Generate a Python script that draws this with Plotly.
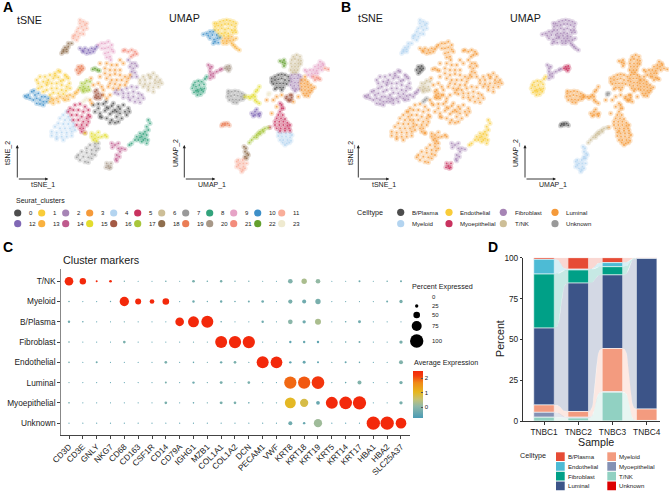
import numpy as np
import plotly.graph_objects as go

W, H = 669, 491
FONT = "Liberation Sans"

# ---------- embedding coordinates, one list per Seurat cluster ----------
tsne_0 = [(28.0,28.5),(29.5,27.5),(31,28.8),(32.5,27.5),(34,29),(35.5,28),(37,28.5),(38.5,27.5),(28.5,26.5),(30,26),(31.5,26.8),(33,25.8),(34.5,27),(36,26),(37.5,26.5),(30.5,24.8),(32,24.5),(33.5,24),(35,25),(36.5,24.5),(38,25.5),(33,23.2),(34.5,23.2),(29.5,28.8),(31.8,29.5),(33.5,28.2),(35,26.5),(38.8,26.5),(32,27.8),(30,25),(33.8,26.5),(36,27.3),(35.5,23.5)]
tsne_1 = [(17.5,38.8),(11,36),(12,37),(13.5,37),(15,37.5),(16.5,38),(18,38.5),(19.5,37.5),(20.5,36.5),(11.5,35),(13,35.5),(14.5,36),(16,36.5),(17.5,36.8),(19,36),(20.8,35),(12.5,34),(14,34.5),(15.5,35),(17,35),(18.5,34.5),(20,34),(21,33.5),(14,33),(15.5,33.5),(17,33.5),(18.5,33),(19.8,32.8),(16,32.2),(17.5,32),(19,31.8),(15,31.5),(13,32.5),(11.5,33.5),(16.5,37.3),(14.2,35.2),(18.2,35.7),(20,37)]
tsne_2 = [(35,33),(36.5,33),(38,33.5),(39.5,34),(41,33.8),(35.5,31.8),(37,32),(38.5,32),(40,32.5),(41.5,32),(42.5,31.5),(37,30.8),(38.5,30.8),(40,31),(41.5,30.5),(43,30.5),(39,30),(40.5,29.5),(42,29.3),(38.5,42),(39.5,41),(40.5,41),(39,40),(40,39.5),(41,40.2),(39.5,38.5),(40.5,38.2),(39.5,37),(41,37),(34.5,32.2)]
tsne_3 = [(32,41),(33.5,40.5),(35,40.5),(31.5,39.5),(33,39),(34.5,39),(36,39),(31.5,38),(33,37.5),(34.5,37.8),(36,37.5),(37.5,37),(38.5,36.5),(32,36.5),(33.5,36),(35,36),(36.5,36),(38,35.5),(33,35),(34.5,34.8),(36,34.5),(37.5,34.5),(34,33.5),(35.5,33.5),(32.5,34),(39,37.5),(31,31.5),(32,30.5),(30.5,34),(27,30),(27.3,36.5),(30,37),(29.5,35),(31,33),(33,31.5),(28,34.5),(30,41),(36,42),(37,41),(27.5,29)]
tsne_4 = [(20,26.5),(19,25.5),(20.5,25),(18,24.5),(19.5,24),(21,24),(17.5,23),(19,22.8),(20.5,22.8),(22,23),(16.5,22),(18,21.5),(19.5,21.5),(21,21.5),(22,22),(15.5,20.5),(17,20.2),(18.5,20.3),(20,20.2),(21.5,20.5),(22.5,21),(15.5,19.3),(17,19),(18.5,19),(20,19),(21.5,19.3),(17,18.3),(19,18)]
tsne_5 = [(21,27.5),(22.5,28.5),(24,28.8),(25.5,28),(26.5,27),(20.5,26.5),(22,27),(23.5,27),(25,26.5),(26.5,25.5),(21.5,25.5),(23,25.5),(24.5,25),(26,24.5),(27,25),(22,24),(23.5,24),(25,23.5),(26.5,23.5),(23,22.5),(24.5,22.5),(26,22.5),(24,21.5),(25,21.5),(24.5,20.5),(25.5,20.2)]
tsne_6 = [(43,37),(44.5,37.5),(46,38),(47,37),(42,36),(43.5,36),(45,36.5),(46.5,36),(48,36),(42,35),(43.5,34.8),(45,35),(46.5,35),(48.5,35),(43,34),(44.5,34),(46,33.8),(47.5,34),(44.5,33),(46,32.5),(45.2,37),(47.5,35.3)]
tsne_7 = [(28.5,17),(29.5,17),(27,16.5),(28.5,16),(29.5,15.5),(26,15.5),(27.5,15),(28.8,14.8),(24.5,14.5),(26,14.2),(27.5,13.8),(28.5,13.5),(23.5,13.5),(25,13),(26.5,12.8),(27.5,12.5),(24,12),(25.5,11.5),(26.5,11.3),(23,12.8)]
tsne_8 = [(44.5,24),(45,23),(44,22),(44.5,21),(43.5,20.5),(43,19.8),(42,20),(44,19.5),(42.5,19),(43.5,18.5),(41,19),(40.5,18),(41.5,18),(42.5,17.5),(44,17),(39.5,17),(38.8,16.5),(43,18),(44.3,18),(42,18.8)]
tsne_9 = [(29.5,46.5),(30.5,47),(31.5,47),(32.5,47.5),(33.5,46.5),(30.5,45.5),(31.5,45.5),(32.5,45.8),(33.5,45.2),(31.5,44),(32.5,44.3),(33,43),(32,42.8),(33.2,42),(34,44.5)]
tsne_10 = [(7.5,31.2),(8.5,31.5),(9.5,32.5),(10.5,31.5),(11.5,32),(12.5,31),(13.5,31),(14.5,30.5),(9,30.5),(10,30),(11,30.5),(12,30),(13,29.5),(14,29.5),(11,29),(12,28.8),(13,28.5),(10.2,32.8),(8,30.8)]
tsne_11 = [(25,53.5),(24,53),(25.5,52.5),(24.5,52),(23.5,51.5),(25,51),(26,51.5),(23,50.5),(24,50),(25,49.8),(22.5,49.5),(23.5,49),(22,48.5),(23,48),(26,53),(24,54),(22,49.2)]
tsne_12 = [(24,45.5),(25,44.5),(25.5,45.5),(26.5,45),(27.5,45.5),(28.5,45.3),(26,44),(27,44.2),(28,44.5),(29,46),(24.8,44.8)]
tsne_13 = [(15,29.5),(16,30),(17,30.5),(18,31),(19,30.5),(20,31.2),(21,31.5),(22,31),(16,29),(17.5,29.5),(19.5,30),(20.5,30.2),(22.5,32),(23.5,33),(23,32.3),(15.5,30.5)]
tsne_14 = [(33.5,17),(34.5,16.5),(35.5,17),(36.5,15.5),(37.5,15.2),(35.5,15.5),(36,14.5),(35,13.5),(35.8,13),(34.8,12.3),(33.7,15.8),(35,11.8)]
tsne_15 = [(25.5,20),(27.5,20),(28.5,19.5),(29.5,20.3),(27.5,19),(28.5,18.5),(29.5,18.8),(30.5,19),(31.5,19.5),(32,19),(28,18),(29,17.7)]
tsne_16 = [(28.5,32.5),(29,33),(29.5,32),(28.8,31.5),(29.5,31),(30.5,31.5),(29,30.5),(30,30.5),(28.5,30.8)]
tsne_17 = [(24.5,35),(25,34),(24.8,33),(25.5,33.5),(26,32.8),(26.5,34),(27,35.5),(25.5,35),(26,35.8),(25,32.5),(24,33.7),(26.8,33)]
tsne_18 = [(21.5,47),(20.5,46),(20,45.2),(19,44.5),(18.5,44),(19.5,45.8),(20.5,47),(19,45),(20,44.5)]
tsne_19 = [(23.5,40),(24,39.5),(24.5,40.2),(23,39),(24,38.5),(24.5,39),(23.5,38),(25,39.5)]
tsne_20 = [(32,11),(32.5,10.2),(33.3,11),(32.8,9.5),(33.2,9.8),(31.8,9.8)]
tsne_21 = [(37.5,45),(38.5,44.5),(39.5,45),(40.5,44.5),(40,43.5),(39.3,43),(37,44.8),(41,43.8)]
tsne_22 = [(27.8,39.2),(28.5,39.5),(29.2,39),(29.8,38.8)]
tsne_23 = [(25.5,30),(25,29.5),(26,30.5)]

umap_0 = [(31.5,36.5),(32.5,37),(33.5,37.5),(34.5,37.7),(35.5,37.5),(36.5,37),(31.5,35.5),(32.5,36),(33.5,36.2),(34.5,36.5),(35.5,36),(36.7,35.8),(32,34.8),(33,35),(34,35),(35,35),(36,34.8),(33,33.8),(34,33.8),(35,33.8),(32.5,33.3),(34.5,33)]
umap_1 = [(15,53),(16,53.5),(17,53.8),(18,54),(19,53.8),(20,53.5),(20.8,53),(14.5,52),(15.5,52.3),(16.5,52.5),(17.5,52.8),(18.5,52.8),(19.5,52.5),(20.5,52),(14.5,51),(15.5,51),(16.5,51.5),(17.5,51.2),(18.5,51.5),(19.5,51),(20.5,51),(15.5,50),(16.5,50),(17.5,50.2),(18.5,50),(19.8,50.2),(16,49),(17.2,49.3),(18.5,49.2),(14.3,53),(20.8,50.3)]
umap_2 = [(37.5,37.5),(38.5,37.7),(39.5,37.5),(40.2,37),(37.3,36.5),(38.3,36.5),(39.3,36.5),(40.3,36),(37.5,35.5),(38.5,35.3),(39.5,35.3),(37.2,34.5),(38.3,34.3),(39.5,34.3),(37.8,33.5),(38.8,33.3),(39.8,33.3),(38.5,32.7)]
umap_3 = [(41.5,37),(40.5,36),(41.5,36),(42.3,35.5),(40.3,35),(41.3,35),(42.3,34.7),(43.3,34.5),(40.5,34),(41.5,34),(42.5,33.8),(43.5,33.5),(44.3,33.8),(40.5,33),(41.5,33),(42.5,32.8),(43.5,32.8),(41,32),(42,32),(43,32.2),(41.5,31.3),(42.5,31.2),(30,30),(32,30),(33,31),(34.5,31.5),(33,28),(31.5,26),(39.5,31),(38,29.5)]
umap_4 = [(33.5,20.3),(34.5,20),(35.8,20),(37,20),(37.6,19.5),(33.5,19.2),(34.6,19),(35.8,19),(37,18.8),(34,18),(35,18),(36.2,18),(37.3,17.8),(34.8,17.2),(36,17),(36.8,17.2),(35.5,16.5)]
umap_5 = [(34,26.5),(33.5,25.5),(34.8,25.5),(33,24.5),(34.3,24.5),(35.5,24.3),(32.5,23.5),(33.8,23.5),(35,23.5),(36.2,23.2),(32.5,22.5),(33.8,22.5),(35,22.5),(36.2,22.3),(37,22.5),(33,21.5),(34.2,21.5),(35.5,21.5),(36.7,21.5),(34,20.7),(35.5,20.8),(37,20.8),(34.5,28.5),(34,29),(35,27.5),(34.5,27.5),(31,21.8)]
umap_6 = [(38,43),(39,43.5),(40,43),(37.5,42),(38.5,42.3),(39.5,42),(40.3,41.8),(37.3,41),(38.5,41),(39.5,41),(40.2,40.8),(37.5,40),(38.5,40),(39.5,40),(37.2,39),(38.3,39),(39.3,39),(37.8,38.3),(38.8,38.3)]
umap_7 = [(18.5,32),(19.5,32.5),(20.5,32.7),(21.5,32.5),(22.5,32),(23.3,31.5),(18.3,31),(19.3,31.2),(20.3,31.5),(21.3,31.3),(22.3,31),(23.3,30.8),(18.8,30),(19.8,30.2),(20.8,30.2),(21.8,30),(22.8,30.2),(20,29.3),(21,29.2),(18.5,32.7)]
umap_8 = [(8,34.5),(8.5,35.3),(9.5,35.7),(10.5,35.5),(11.2,34.7),(11.3,33.5),(11,32.5),(10.2,31.7),(9.2,31.5),(8.2,32.3),(7.7,33.5),(8.8,34),(9.8,34.5),(10.2,33.5),(9.3,33),(8.8,32.8),(9.5,32.5),(10.5,33),(11.5,36.3),(12,37)]
umap_9 = [(46,41.5),(46.8,41),(45.5,40.5),(46.3,40),(47,40.5),(44.5,40),(45.5,39.5),(46.5,39),(44,39),(45,38.8),(43.5,38),(44.5,38),(45.3,38),(42.5,37.5),(43.5,37),(42,38.5),(41.5,39),(43,39)]
umap_10 = [(12,50),(13,50.5),(14,50.5),(11,49.7),(12.5,49.3),(13.7,49.5),(15,49.5),(13,48.5),(14.2,48.2),(15.2,48.5),(16,48.7),(14.5,47.5),(15.5,47.2),(14,47)]
umap_11 = [(21,11.5),(21.5,10.5),(22,11),(21.5,12),(22,9.5),(23,10),(22.8,9),(23.5,9.5),(23,11),(22.5,8.5),(21,10),(24,11),(23.5,12.5),(22.8,12)]
umap_12 = [(25.5,26),(26.5,26.5),(27,27.2),(27.5,25.8),(26.5,25.5),(28,26),(27.8,25.2),(26,25.2)]
umap_13 = [(17.5,48.5),(18.5,48.5),(19.5,49),(16.8,47.8),(18,47.7),(19,47.8),(20,48),(20.8,48.5),(17,47),(18,47),(19.5,47),(20,46.5),(20.5,46),(21,45.5),(21.8,45)]
umap_14 = [(12.5,40.5),(13,39.5),(13.5,40),(13,38.5),(14,38),(13.2,37.5),(14,37),(15,38.5),(16,39),(16.5,39.3),(13,36.5)]
umap_15 = [(23.5,31),(24.5,31),(25.5,31),(26.5,31),(26,31.5),(26.7,32.5),(27.2,33),(27.8,34),(26.5,30),(27,29.5),(25,30.5),(27.8,29)]
umap_16 = [(36,31),(37,31.5),(37.5,30.7),(36.5,30),(37.2,30),(35.8,30.5),(36.8,29.8),(37.5,31.5)]
umap_17 = [(24.8,17.2),(25.5,18),(26.2,18.8),(27,19.5),(27.5,20),(28,20.5),(28.8,21),(29.5,21.5),(30.5,21.7),(29,20.5),(28,19.8),(27,18.8)]
umap_18 = [(23.8,15.5),(23.5,14.5),(24.2,14),(23.5,13),(24.5,13.5),(24,12.5),(23.2,16)]
umap_19 = [(16.8,22.8),(17.5,23),(18.3,23),(18.8,22.4),(17.5,22.5),(16.5,22.3)]
umap_20 = [(18,40),(18.8,40.2),(18.2,39.3),(19,39.5),(18.6,38.8),(17.5,39.5)]
umap_21 = [(44,37),(45,36.8),(45.5,36.5),(46,36.2),(44.5,36),(47.5,39.5),(48.5,39.2)]
umap_22 = [(34,41.7),(34.8,41.3),(35.2,42),(35.5,41),(35.2,40.2)]
umap_23 = [(30.5,32),(31,32),(30.5,31.5)]

TSNE = [tsne_0,tsne_1,tsne_2,tsne_3,tsne_4,tsne_5,tsne_6,tsne_7,tsne_8,tsne_9,tsne_10,tsne_11,tsne_12,tsne_13,tsne_14,tsne_15,tsne_16,tsne_17,tsne_18,tsne_19,tsne_20,tsne_21,tsne_22,tsne_23]
UMAP = [umap_0,umap_1,umap_2,umap_3,umap_4,umap_5,umap_6,umap_7,umap_8,umap_9,umap_10,umap_11,umap_12,umap_13,umap_14,umap_15,umap_16,umap_17,umap_18,umap_19,umap_20,umap_21,umap_22,umap_23]

cluster_colors = ["#4D4D4D","#F9CC39","#A684B5","#F59A3A","#B3D4F0","#C9325F","#CDBE97","#999999","#33A37C","#E6A3C6","#3D8FC8","#F9AE9A","#8068B5","#F9B13F","#BF5A8D","#E3DC2E","#A45A45","#A8C63C","#8F6E4E","#EA7D55","#A79888","#F38C7C","#63A02E","#EFEAD0"]
cell_legend = ["B/Plasma","Myeloid","Endothelial","Myoepithelial","Fibroblast","T/NK","Luminal","Unknown"]
cell_colors = {"B/Plasma":"#4D4D4D","Myeloid":"#B3D4F0","Endothelial":"#F9CC39","Myoepithelial":"#C9325F","Fibroblast":"#A684B5","T/NK":"#CDBE97","Luminal":"#F59A3A","Unknown":"#999999"}
cluster_celltype = ["Luminal","Fibroblast","Luminal","Luminal","Luminal","Luminal","Luminal","Luminal","Endothelial","Luminal","Fibroblast","Myeloid","Luminal","Fibroblast","Fibroblast","Luminal","Luminal","T/NK","Myeloid","B/Plasma","Myoepithelial","Luminal","Luminal","Unknown"]

# ---------- dot plot ----------
genes = ["CD3D","CD3E","GNLY","NKG7","CD68","CD163","CSF1R","CD14","CD79A","IGHG1","MZB1","COL1A1","COL1A2","DCN","PECAM1","VWF","KRT8","KRT18","KRT19","KRT5","KRT14","KRT17","HBA1","HBA2","SLC25A37"]
rows = ["T/NK","Myeloid","B/Plasma","Fibroblast","Endothelial","Luminal","Myoepithelial","Unknown"]
pct_tnk    = [65,48,15,20,10,5,5,12,8,20,12,18,10,10,8,5,35,40,35,5,8,15,8,12,15]
pct_mye    = [12,8,8,10,70,45,35,50,8,18,10,18,12,15,20,8,32,30,40,5,8,8,8,15,25]
pct_bpl    = [18,12,8,8,10,5,5,5,65,82,90,12,8,8,18,5,35,25,45,5,12,22,5,5,8]
pct_fib    = [12,8,8,8,20,8,5,5,5,10,8,90,92,92,5,5,18,18,18,8,12,15,5,5,25]
pct_end    = [12,8,15,8,8,8,5,20,5,12,8,18,20,10,90,88,18,22,15,10,15,12,5,5,30]
pct_lum    = [8,5,5,5,5,8,5,15,5,18,10,22,10,20,5,5,92,92,95,10,12,30,8,5,25]
pct_myo    = [12,8,5,8,8,8,5,20,8,12,10,22,20,12,10,10,82,62,28,90,95,100,5,5,25]
pct_unk    = [8,5,5,5,5,5,5,5,5,5,5,5,5,5,5,5,30,18,62,2,2,5,100,100,80]
exp_tnk    = [2.5,2.5,2.5,2.5,-0.3,-0.5,-0.5,-0.3,-0.4,-0.2,-0.3,-0.2,-0.4,-0.3,-0.4,-0.5,-0.1,0.3,0.1,-0.5,-0.4,-0.3,-0.4,-0.3,-0.3]
exp_mye    = [-0.3,-0.5,-0.5,-0.4,2.5,2.5,2.5,2.5,-0.5,-0.3,-0.4,-0.3,-0.4,-0.3,-0.3,-0.5,-0.2,-0.3,-0.2,-0.5,-0.4,-0.4,-0.4,-0.3,-0.2]
exp_bpl    = [-0.3,-0.4,-0.5,-0.5,-0.4,-0.5,-0.5,-0.5,2.5,2.5,2.5,-0.4,-0.5,-0.5,-0.3,-0.5,0.0,-0.3,0.3,-0.5,-0.4,-0.3,-0.5,-0.5,-0.5]
exp_fib    = [-0.3,-0.5,-0.5,-0.5,-0.2,-0.5,-0.5,-0.5,-0.5,-0.4,-0.4,2.5,2.5,2.5,-0.5,-0.5,-0.5,-0.4,-0.5,-0.4,-0.4,-0.3,-0.5,-0.5,-0.2]
exp_end    = [-0.3,-0.5,-0.3,-0.5,-0.5,-0.5,-0.5,-0.2,-0.5,-0.4,-0.4,-0.3,-0.2,-0.4,2.5,2.5,-0.5,-0.4,-0.5,-0.4,-0.4,-0.4,-0.5,-0.5,-0.1]
exp_lum    = [-0.4,-0.5,-0.5,-0.5,-0.5,-0.5,-0.5,-0.2,-0.5,-0.3,-0.4,-0.2,-0.4,-0.2,-0.5,-0.5,1.9,2.0,2.3,-0.4,-0.4,-0.1,-0.5,-0.5,-0.2]
exp_myo    = [-0.3,-0.5,-0.5,-0.5,-0.5,-0.5,-0.5,-0.2,-0.5,-0.4,-0.4,-0.2,-0.2,-0.4,-0.4,-0.4,1.0,0.8,-0.4,2.5,2.5,2.5,-0.5,-0.5,-0.2]
exp_unk    = [-0.5,-0.5,-0.5,-0.5,-0.5,-0.5,-0.5,-0.5,-0.5,-0.5,-0.5,-0.5,-0.5,-0.5,-0.5,-0.5,-0.3,-0.4,0.2,-0.6,-0.6,-0.5,2.5,2.5,2.5]
PCT = [pct_tnk,pct_mye,pct_bpl,pct_fib,pct_end,pct_lum,pct_myo,pct_unk]
EXP = [exp_tnk,exp_mye,exp_bpl,exp_fib,exp_end,exp_lum,exp_myo,exp_unk]
legend_pct = [0,25,50,75,100]
expr_scale = [[0,"#4A9BB5"],[0.25,"#8FB8A8"],[0.4,"#C6C272"],[0.55,"#E6B71E"],[0.75,"#F08A17"],[0.9,"#F33D0E"],[1,"#F3290B"]]

# ---------- composition per sample (stack order top to bottom) ----------
samples = ["TNBC1","TNBC2","TNBC3","TNBC4"]
stack_types = ["B/Plasma","Endothelial","Fibroblast","Luminal","Myeloid","Myoepithelial","T/NK","Unknown"]
stack_colors = ["#E64B35","#4DBBD5","#00A087","#3C5488","#F39B7F","#8491B4","#91D1C2","#DC0000"]
frac_bplasma = [1,7,3,0.3]
frac_endo = [9,0.5,2.5,0]
frac_fibro = [33,8,5,0.2]
frac_luminal = [47,78.5,45,92]
frac_myeloid = [4.5,3.5,26.5,7]
frac_myoepi = [3,0.5,0.2,0]
frac_tnk = [2.5,1.8,17.7,0.4]
frac_unknown = [0,0.2,0.1,0.1]
FRAC = np.array([frac_bplasma,frac_endo,frac_fibro,frac_luminal,frac_myeloid,frac_myoepi,frac_tnk,frac_unknown],float)

fig = go.Figure()
annots, shapes, layout = [], [], {}

def px_x(x): return x / W
def px_y(y): return 1 - y / H

def txt(x, y, s, size, anchor="left", angle=0, color="#1a1a1a", bold=False):
    annots.append(dict(x=px_x(x), y=px_y(y), xref="paper", yref="paper", text=f"<b>{s}</b>" if bold else s,
                       showarrow=False, xanchor=anchor, yanchor="middle", textangle=angle,
                       font=dict(family=FONT, size=size, color=color)))

def add_axes(n, xpx, ypx, xr, yr):
    k = "" if n == 1 else str(n)
    layout["xaxis"+k] = dict(domain=[px_x(xpx[0]), px_x(xpx[1])], range=xr, anchor="y"+k, visible=False, fixedrange=True)
    layout["yaxis"+k] = dict(domain=[px_y(ypx[1]), px_y(ypx[0])], range=yr, anchor="x"+k, visible=False, fixedrange=True)

def arrows(x0, y0):
    for dx, dy in ((0, -34), (31, 0)):
        annots.append(dict(x=px_x(x0+dx), y=px_y(y0+dy), xref="paper", yref="paper", ax=-dx, ay=-dy, text="",
                           showarrow=True, arrowhead=2, arrowsize=0.7, arrowwidth=0.9, arrowcolor="#222"))

def embed(n, points, colors):
    k = "" if n == 1 else str(n)
    for pts, c in zip(points, colors):
        xs = [p[0] for p in pts]; ys = [p[1] for p in pts]
        fig.add_trace(go.Scatter(x=xs, y=ys, xaxis="x"+k, yaxis="y"+k, mode="markers", hoverinfo="skip", showlegend=False,
                                 marker=dict(color=c, size=5.2, opacity=0.27, line_width=0)))
        fig.add_trace(go.Scatter(x=xs, y=ys, xaxis="x"+k, yaxis="y"+k, mode="markers", hoverinfo="skip", showlegend=False,
                                 marker=dict(color=c, size=1.9, opacity=0.8, line_width=0)))

# Panels A and B
add_axes(1, (15,170), (10,180), [4.5,51], [6,57])
add_axes(2, (175,330), (10,180), [2.5,49], [6,57])
add_axes(3, (355,510), (10,180), [4.5,51], [6,57])
add_axes(4, (514,669), (10,180), [2.5,49], [6,57])
celltype_cols = [cell_colors[t] for t in cluster_celltype]
embed(1, TSNE, cluster_colors); embed(2, UMAP, cluster_colors)
embed(3, TSNE, celltype_cols); embed(4, UMAP, celltype_cols)

txt(1, 7, "A", 14, bold=True, color="#000"); txt(339, 7, "B", 14, bold=True, color="#000")
txt(1, 247, "C", 14, bold=True, color="#000"); txt(486, 247, "D", 14, bold=True, color="#000")
txt(15, 20, "tSNE", 10.7); txt(167, 18, "UMAP", 10.7); txt(356, 18, "tSNE", 10.7); txt(508, 18, "UMAP", 10.7)
for x0, y0 in ((17.3,179),(184.3,179),(358.3,179),(525,179)):
    arrows(x0, y0)
txt(43,185,"tSNE_1",7,"center"); txt(212,185,"UMAP_1",7,"center")
txt(384,185,"tSNE_1",7,"center"); txt(553,185,"UMAP_1",7,"center")
txt(8,153,"tSNE_2",7,"center",-90); txt(176,153,"UMAP_2",7,"center",-90)
txt(351,153,"tSNE_2",7,"center",-90); txt(516,153,"UMAP_2",7,"center",-90)

# Overlay axis for legend keys
add_axes(7, (0,W), (0,H), [0,W], [H,0])
lx, ly, lc = [], [], []
for i, c in enumerate(cluster_colors):
    col, row = i % 12, i // 12
    x = 17.7 + 24*col; y = 213 + 10.7*row
    lx.append(x); ly.append(y); lc.append(c)
    txt(x+9.5, y, str(i), 6)
txt(14, 201, "Seurat_clusters", 7)
cell_dot_x = [400.7,449,503.3,555]
cell_txt_x = [410,457.7,512.7,564.3]
for i, name in enumerate(cell_legend):
    col, row = i // 2, i % 2
    y = 212.3 + 11.4*row
    lx.append(cell_dot_x[col]); ly.append(y); lc.append(cell_colors[name])
    txt(cell_txt_x[col], y, name, 6.1)
txt(355, 212, "Celltype", 7.2)
fig.add_trace(go.Scatter(x=lx, y=ly, xaxis="x7", yaxis="y7", mode="markers", hoverinfo="skip", showlegend=False,
                         marker=dict(color=lc, size=7.2, line_width=0)))

# Panel C
add_axes(5, (60.7,409.7), (269.3,435.3), [-0.6,24.63], [7.6,-0.59])
axfont = dict(family=FONT, size=8.3, color="#1a1a1a")
layout["xaxis5"].update(visible=True, type="category", categoryorder="array", categoryarray=genes, tickmode="array",
                        tickvals=genes, ticktext=genes, tickangle=-45, showline=True, linecolor="#444", linewidth=0.8,
                        ticks="outside", ticklen=2.5, tickwidth=0.7, tickcolor="#444", showgrid=False, zeroline=False, tickfont=axfont)
layout["yaxis5"].update(visible=True, type="category", categoryorder="array", categoryarray=rows, tickmode="array",
                        tickvals=rows, ticktext=rows, showline=True, linecolor="#888", linewidth=0.9,
                        ticks="outside", ticklen=2.5, tickwidth=0.7, tickcolor="#444", showgrid=False, zeroline=False, tickfont=axfont)
gx, gy, gp, ge = [], [], [], []
for r, name in enumerate(rows):
    for g, gene in enumerate(genes):
        gx.append(gene); gy.append(name); gp.append(PCT[r][g]); ge.append(EXP[r][g])
fig.add_trace(go.Scatter(x=gx, y=gy, xaxis="x5", yaxis="y5", mode="markers", hoverinfo="skip", showlegend=False,
    marker=dict(size=gp, sizemode="diameter", sizeref=7.5, sizemin=0.6, color=ge, cmin=-0.75, cmax=2.5, colorscale=expr_scale,
                opacity=1, line_width=0,
                colorbar=dict(x=px_x(412.7), xanchor="left", y=px_y(371), yanchor="top", len=46.7, lenmode="pixels",
                              thickness=10, thicknessmode="pixels", outlinewidth=0, tickvals=[0,1,2], ticktext=["0","1","2"],
                              ticks="inside", ticklen=2, tickwidth=0.5, tickcolor="#555", xpad=0, ypad=0,
                              tickfont=dict(family=FONT, size=6, color="#1a1a1a")))))
txt(61, 260, "Cluster markers", 10.8)
txt(410, 286, "Percent Expressed", 7.2)
txt(412, 362, "Average Expression", 7.2)
leg_y = [296.7,306,315,326,341]
fig.add_trace(go.Scatter(x=[416.7]*5, y=leg_y, xaxis="x7", yaxis="y7", mode="markers", hoverinfo="skip", showlegend=False,
                         marker=dict(size=legend_pct, sizemode="diameter", sizeref=7.5, sizemin=0.6, color="#000", opacity=1, line_width=0)))
for p, y in zip(legend_pct, leg_y):
    txt(430, y, str(p), 6)

# Panel D
add_axes(6, (523.3,660), (257.7,421.3), [-0.605,3.39], [0,100])
layout["xaxis6"].update(visible=True, tickmode="array", tickvals=list(range(4)), ticktext=samples, showline=True, linecolor="#333",
                        linewidth=0.8, ticks="outside", ticklen=2.5, tickwidth=0.7, tickcolor="#333", showgrid=False, zeroline=False,
                        tickfont=axfont)
layout["yaxis6"].update(visible=True, tickmode="array", tickvals=[0,25,50,75,100], showline=True, linecolor="#333",
                        linewidth=0.8, ticks="outside", ticklen=2.5, tickwidth=0.7, tickcolor="#333", showgrid=False, zeroline=False,
                        tickfont=axfont)
stack_top = 100 - np.vstack([np.zeros(4), np.cumsum(FRAC, axis=0)[:-1]])
stack_bot = stack_top - FRAC
BW = 0.3
t = np.linspace(0, 1, 33)
ease = 1/(1+np.exp(-11*(t-0.5)))
ease = (ease-ease[0])/(ease[-1]-ease[0])
for k, color in enumerate(stack_colors):
    for i in range(3):
        if FRAC[k,i] + FRAC[k,i+1] <= 0.2:
            continue
        x = i+BW + (1-2*BW)*t
        up = stack_top[k,i] + (stack_top[k,i+1]-stack_top[k,i])*ease
        lo = stack_bot[k,i] + (stack_bot[k,i+1]-stack_bot[k,i])*ease
        fig.add_trace(go.Scatter(x=np.r_[x,x[::-1]], y=np.r_[up,lo[::-1]], xaxis="x6", yaxis="y6", mode="lines", fill="toself",
                                 fillcolor=color, opacity=0.22, line=dict(color="white", width=0.1), hoverinfo="skip", showlegend=False))
for k, color in enumerate(stack_colors):
    fig.add_trace(go.Bar(x=list(range(4)), y=FRAC[k], base=stack_bot[k], width=0.6, xaxis="x6", yaxis="y6", hoverinfo="skip", showlegend=False,
                         marker=dict(color=color, line=dict(color="white", width=0.6))))
txt(500, 339, "Percent", 10.7, "center", -90)
txt(595.5, 442, "Sample", 10.7, "center")
txt(518, 455, "Celltype", 7.2)
for k, (name, color) in enumerate(zip(stack_types, stack_colors)):
    col, row = (0, k) if k < 4 else (1, k-4)
    x0 = 556 if col == 0 else 607.3
    y0 = 452.3 + 9.75*row
    shapes.append(dict(type="rect", xref="paper", yref="paper", x0=px_x(x0), x1=px_x(x0+8.7), y0=px_y(y0), y1=px_y(y0+8.7),
                       fillcolor=color, line=dict(width=0)))
    txt(x0+10, y0+4.4, name, 6.1)

fig.update_layout(width=W, height=H, margin=dict(l=0,r=0,t=0,b=0,autoexpand=False), paper_bgcolor="white", plot_bgcolor="rgba(0,0,0,0)",
                  barmode="overlay", showlegend=False, annotations=annots, shapes=shapes, font=dict(family=FONT), **layout)
fig.write_html("out.html", config=dict(displayModeBar=False),
               post_script="document.body.style.margin='0';document.documentElement.style.overflow='hidden';")
